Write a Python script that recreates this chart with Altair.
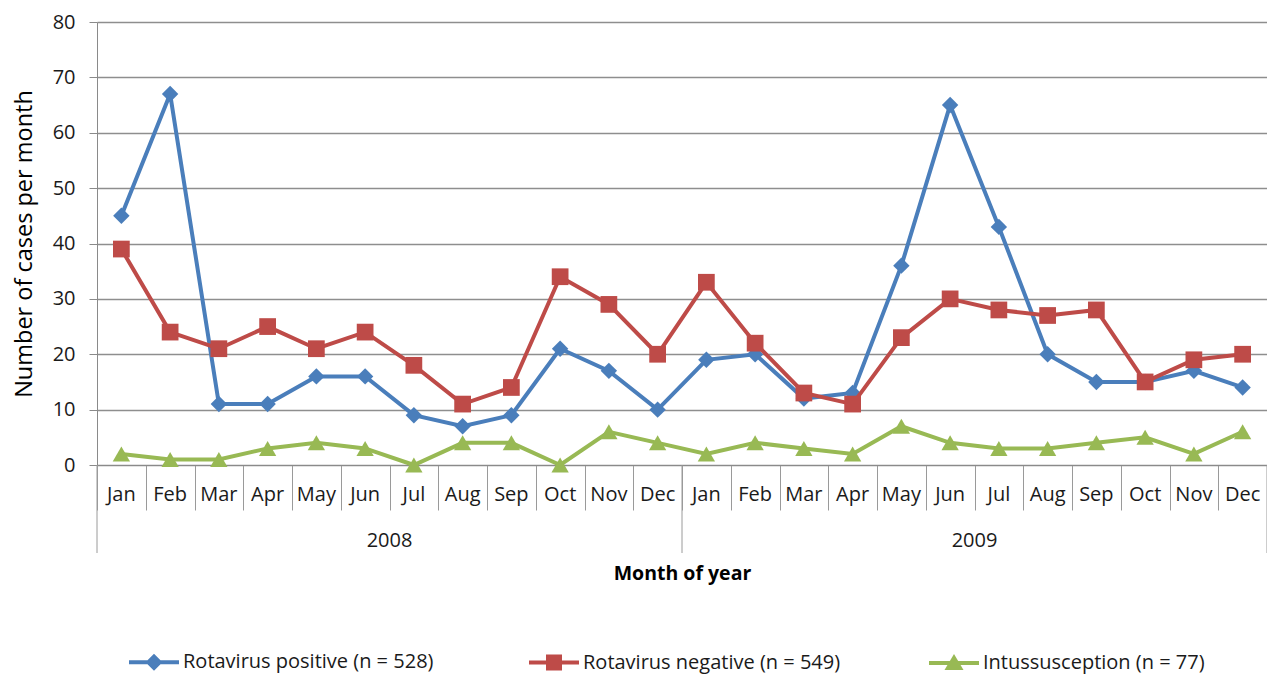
import altair as alt
import pandas as pd

months = ["Jan", "Feb", "Mar", "Apr", "May", "Jun", "Jul", "Aug", "Sep", "Oct", "Nov", "Dec"] * 2
years = ["2008", "2009"]
series_names = ["Rotavirus positive (n = 528)", "Rotavirus negative (n = 549)", "Intussusception (n = 77)"]
rota_pos = [45, 67, 11, 11, 16, 16, 9, 7, 9, 21, 17, 10, 19, 20, 12, 13, 36, 65, 43, 20, 15, 15, 17, 14]
rota_neg = [39, 24, 21, 25, 21, 24, 18, 11, 14, 34, 29, 20, 33, 22, 13, 11, 23, 30, 28, 27, 28, 15, 19, 20]
intuss = [2, 1, 1, 3, 4, 3, 0, 4, 4, 0, 6, 4, 2, 4, 3, 2, 7, 4, 3, 3, 4, 5, 2, 6]
colors = ["#4A7EBB", "#BE4B48", "#98B954"]
shapes = ["diamond", "square", "triangle-up"]
marker_sizes = [270, 280, 300]

FONT = "Open Sans"
FS = 20
W, H = 1170, 443

rows = []
for name, vals in zip(series_names, [rota_pos, rota_neg, intuss]):
    for i, v in enumerate(vals):
        rows.append({"pos": i + 0.5, "month": months[i], "series": name, "value": v})
df = pd.DataFrame(rows)

month_df = pd.DataFrame({"pos": [i + 0.5 for i in range(24)], "month": months})
year_df = pd.DataFrame({"pos": [6, 18], "year": years})
bound_df = pd.DataFrame({"pos": [0, 12, 24]})

xscale = alt.Scale(domain=[0, 24], nice=False, zero=False)
yscale = alt.Scale(domain=[0, 80], nice=False)

# legend symbols: line segment plus marker (unit box -1..1 spans 50px)
legend_paths = [
    "M-1,-0.08H1V0.08H-1Z M0,-0.34L0.34,0L0,0.34L-0.34,0Z",
    "M-1,-0.08H1V0.08H-1Z M-0.32,-0.32H0.32V0.32H-0.32Z",
    "M-1,-0.08H1V0.08H-1Z M0,-0.36L0.38,0.28H-0.38Z",
]

xaxis = alt.Axis(
    values=list(range(25)),
    labels=False,
    grid=False,
    tickSize=45,
    tickColor="#9a9a9a",
    domainColor="#8a8a8a",
    title="Month of year",
    titleFont=FONT,
    titleFontSize=19.5,
    titleFontWeight="bold",
    titleColor="#000000",
    titleY=108,
    titleBaseline="middle",
)
yaxis = alt.Axis(
    values=list(range(0, 81, 10)),
    grid=True,
    gridColor="#8E8E8E",
    gridWidth=1.3,
    domainColor="#8a8a8a",
    tickColor="#8a8a8a",
    tickSize=8,
    labelPadding=14,
    labelFont=FONT,
    labelFontSize=FS,
    labelColor="#1a1a1a",
    title="Number of cases per month",
    titleFont=FONT,
    titleFontSize=23.5,
    titleFontWeight="normal",
    titleColor="#000000",
    titleX=-73,
    titleY=H / 2,
    titleAngle=-90,
    titleBaseline="middle",
)

base = alt.Chart(df)
layers = []
for k, name in enumerate(series_names):
    sub = base.transform_filter(alt.datum.series == name)
    line = sub.mark_line(strokeWidth=4, color=colors[k]).encode(
        x=alt.X("pos:Q", scale=xscale, axis=xaxis),
        y=alt.Y("value:Q", scale=yscale, axis=yaxis),
        order=alt.Order("pos:Q"),
    )
    pts = sub.mark_point(
        filled=True, opacity=1, shape=shapes[k], size=marker_sizes[k], color=colors[k]
    ).encode(
        x=alt.X("pos:Q", scale=xscale, axis=xaxis),
        y=alt.Y("value:Q", scale=yscale, axis=yaxis),
    )
    layers += [line, pts]

leg = dict(
    title=None,
    orient="none",
    legendX=31,
    legendY=614,
    direction="horizontal",
    columns=3,
    gridAlign="all",
    columnPadding=85,
    symbolSize=2500,
    symbolOpacity=1,
    labelFont=FONT,
    labelFontSize=FS,
    labelColor="#1a1a1a",
    labelOffset=3,
    labelLimit=400,
)

legend_layer = base.transform_filter("false").mark_point(filled=True, opacity=1).encode(
    color=alt.Color("series:N", scale=alt.Scale(domain=series_names, range=colors),
                    legend=alt.Legend(**leg)),
    shape=alt.Shape("series:N", scale=alt.Scale(domain=series_names, range=legend_paths),
                    legend=alt.Legend(**leg)),
)

month_text = alt.Chart(month_df).mark_text(
    font=FONT, fontSize=FS, color="#1a1a1a", baseline="middle"
).encode(
    x=alt.X("pos:Q", scale=xscale, axis=xaxis),
    y=alt.value(H + 30),
    text="month:N",
)

year_text = alt.Chart(year_df).mark_text(
    font=FONT, fontSize=FS, color="#1a1a1a", baseline="middle"
).encode(
    x=alt.X("pos:Q", scale=xscale, axis=xaxis),
    y=alt.value(H + 76),
    text="year:N",
)

bounds = alt.Chart(bound_df).mark_rule(color="#9a9a9a", strokeWidth=1).encode(
    x=alt.X("pos:Q", scale=xscale, axis=xaxis),
    y=alt.value(H),
    y2=alt.value(H + 88),
)

chart = alt.layer(*layers, legend_layer, month_text, year_text, bounds).properties(
    width=W,
    height=H,
    autosize=alt.AutoSizeParams(type="none"),
    padding={"left": 89, "top": 14, "right": 0, "bottom": 212},
    background="white",
).configure_view(stroke=None)

chart.save("out.html", embed_options={"renderer": "svg", "actions": False})
